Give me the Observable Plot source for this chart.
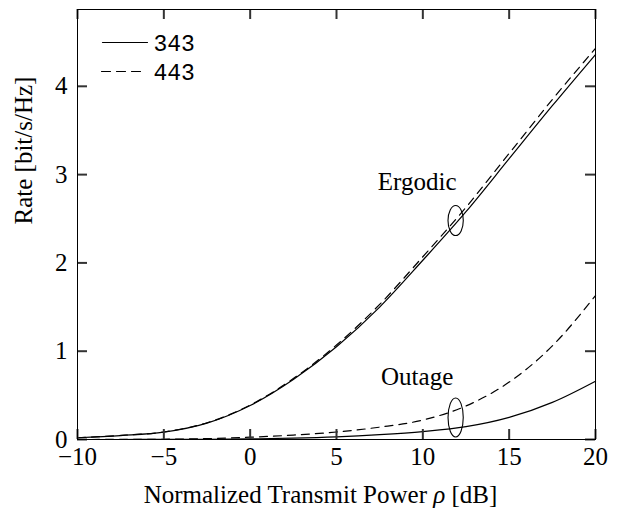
<!DOCTYPE html>
<html>
<head>
<meta charset="utf-8">
<script src="https://cdn.jsdelivr.net/npm/d3@7"></script>
<script src="https://cdn.jsdelivr.net/npm/@observablehq/plot@0.6"></script>
<style>
  html, body { margin: 0; padding: 0; background: #fff; }
  #chart { width: 618px; height: 511px; }
</style>
</head>
<body>
<div id="chart"></div>
<script>
// ---- data ----
const snr = [-10, -7.5, -5, -2.5, 0, 2.5, 5, 7.5, 10, 12.5, 15, 17.5, 20];
const ergodic343 = [0.02, 0.045, 0.083, 0.185, 0.385, 0.68, 1.05, 1.5, 2.03, 2.58, 3.18, 3.78, 4.36];
const ergodic443 = [0.02, 0.046, 0.085, 0.19, 0.39, 0.69, 1.07, 1.53, 2.07, 2.63, 3.24, 3.85, 4.43];
const outage343 = [0, 0, 0.001, 0.003, 0.007, 0.015, 0.03, 0.055, 0.09, 0.145, 0.25, 0.42, 0.66];
const outage443 = [0, 0.001, 0.003, 0.01, 0.026, 0.05, 0.085, 0.14, 0.22, 0.38, 0.65, 1.06, 1.63];

const xTicks = [-10, -5, 0, 5, 10, 15, 20];
const yTicks = [0, 1, 2, 3, 4];

const legendLabels = ["343", "443"];
const annotationLabels = ["Ergodic", "Outage"];
const annotationX = [9.67, 9.67];
const annotationY = [2.92, 0.71];
const ellipseX = [11.9, 11.9];
const ellipseY = [2.48, 0.25];

const xLabel = "Normalized Transmit Power ρ [dB]";
const yLabel = "Rate [bit/s/Hz]";

// ---- layout ----
const W = 618, H = 511, ML = 77, MR = 23, MT = 9, MB = 72;
const FW = W - ML - MR, FH = H - MT - MB;
const xDomain = [-10, 20], yDomain = [0, 4.87];
const T = 10; // tick length in px
const tx = T * (xDomain[1] - xDomain[0]) / FW; // tick length in x units
const ty = T * (yDomain[1] - yDomain[0]) / FH; // tick length in y units

// ---- helpers ----
const rows = (ys) => snr.map((x, i) => ({x, y: ys[i]}));
function ellipseSymbol(aspect) {
  return {
    draw(c, size) {
      const ry = Math.sqrt(size / Math.PI), rx = ry * aspect;
      const kx = rx * 0.5523, ky = ry * 0.5523;
      c.moveTo(rx, 0);
      c.bezierCurveTo(rx, ky, kx, ry, 0, ry);
      c.bezierCurveTo(-kx, ry, -rx, ky, -rx, 0);
      c.bezierCurveTo(-rx, -ky, -kx, -ry, 0, -ry);
      c.bezierCurveTo(kx, -ry, rx, -ky, rx, 0);
      c.closePath();
    }
  };
}
const lineShape = {draw(c, l) { c.moveTo(0, 0); c.lineTo(0, -l); }};

const dash = "8,6";
const tickStyle = {stroke: "#333", strokeWidth: 2};
const legendText = {frameAnchor: "top-left", dx: 76, text: d => d, textAnchor: "start", lineAnchor: "middle",
  fontFamily: "'Liberation Mono', monospace", fontSize: 23, fill: "#000"};

const chart = Plot.plot({
  width: W,
  height: H,
  marginLeft: ML,
  marginRight: MR,
  marginTop: MT,
  marginBottom: MB,
  style: {fontFamily: "'Liberation Serif', 'Times New Roman', serif", fontSize: "25px", background: "#fff", color: "#000"},
  x: {domain: xDomain},
  y: {domain: yDomain},
  marks: [
    // curves
    Plot.line(rows(ergodic343), {x: "x", y: "y", stroke: "#000", strokeWidth: 1.2, curve: "monotone-x"}),
    Plot.line(rows(ergodic443), {x: "x", y: "y", stroke: "#000", strokeWidth: 1.2, strokeDasharray: dash, curve: "monotone-x"}),
    Plot.line(rows(outage343), {x: "x", y: "y", stroke: "#000", strokeWidth: 1.2, curve: "monotone-x"}),
    Plot.line(rows(outage443), {x: "x", y: "y", stroke: "#000", strokeWidth: 1.2, strokeDasharray: dash, curve: "monotone-x"}),
    // ellipses
    Plot.dot([0], {x: () => ellipseX[0], y: () => ellipseY[0], r: 15, symbol: ellipseSymbol(0.51), stroke: "#000", strokeWidth: 1.1, fill: "none"}),
    Plot.dot([1], {x: () => ellipseX[1], y: () => ellipseY[1], r: 19.5, symbol: ellipseSymbol(0.39), stroke: "#000", strokeWidth: 1.1, fill: "none"}),
    // annotations
    Plot.text(annotationLabels, {x: (d, i) => annotationX[i], y: (d, i) => annotationY[i], text: d => d, fontSize: 25, fill: "#000"}),
    // tick labels
    Plot.axisX(xTicks, {anchor: "bottom", tickSize: 0, tickPadding: 8, label: null, fontSize: 25}),
    Plot.axisY(yTicks, {anchor: "left", tickSize: 0, tickPadding: 10, label: null, fontSize: 25, tickFormat: d => String(d)}),
    // inward ticks on all four sides
    Plot.ruleX(xTicks, {x: d => d, y1: yDomain[0], y2: yDomain[0] + ty, ...tickStyle}),
    Plot.ruleX(xTicks, {x: d => d, y1: yDomain[1], y2: yDomain[1] - ty, ...tickStyle}),
    Plot.ruleY(yTicks, {y: d => d, x1: xDomain[0], x2: xDomain[0] + tx, ...tickStyle}),
    Plot.ruleY(yTicks, {y: d => d, x1: xDomain[1], x2: xDomain[1] - tx, ...tickStyle}),
    // frame
    Plot.frame({stroke: "#000", strokeWidth: 1}),
    // legend
    Plot.vector([0], {frameAnchor: "top-left", dx: 25, dy: 33, rotate: 90, length: 45, anchor: "start", shape: lineShape, stroke: "#000", strokeWidth: 1.2}),
    Plot.vector([1], {frameAnchor: "top-left", dx: 24, dy: 62, rotate: 90, length: 43, anchor: "start", shape: lineShape, stroke: "#000", strokeWidth: 1.2, strokeDasharray: "9,6"}),
    Plot.text(legendLabels, {...legendText, filter: (d, i) => i === 0, dy: 34}),
    Plot.text(legendLabels, {...legendText, filter: (d, i) => i === 1, dy: 63}),
    // axis titles
    Plot.text([xLabel], {frameAnchor: "bottom", dx: -16, dy: 55, text: d => d, lineAnchor: "middle", fontSize: 25, fill: "#000"}),
    Plot.text([yLabel], {frameAnchor: "left", dx: -54, rotate: -90, text: d => d, lineAnchor: "middle", fontSize: 25, fill: "#000"})
  ]
});

// italicize ρ in x label
chart.querySelectorAll("text").forEach(t => {
  if (t.textContent === xLabel) {
    const parts = xLabel.split("ρ");
    t.textContent = "";
    const ns = "http://www.w3.org/2000/svg";
    const a = document.createElementNS(ns, "tspan"); a.textContent = parts[0];
    const b = document.createElementNS(ns, "tspan"); b.textContent = "ρ"; b.setAttribute("font-style", "italic");
    const c = document.createElementNS(ns, "tspan"); c.textContent = parts[1];
    t.append(a, b, c);
  }
});

document.getElementById("chart").appendChild(chart);
</script>
</body>
</html>
